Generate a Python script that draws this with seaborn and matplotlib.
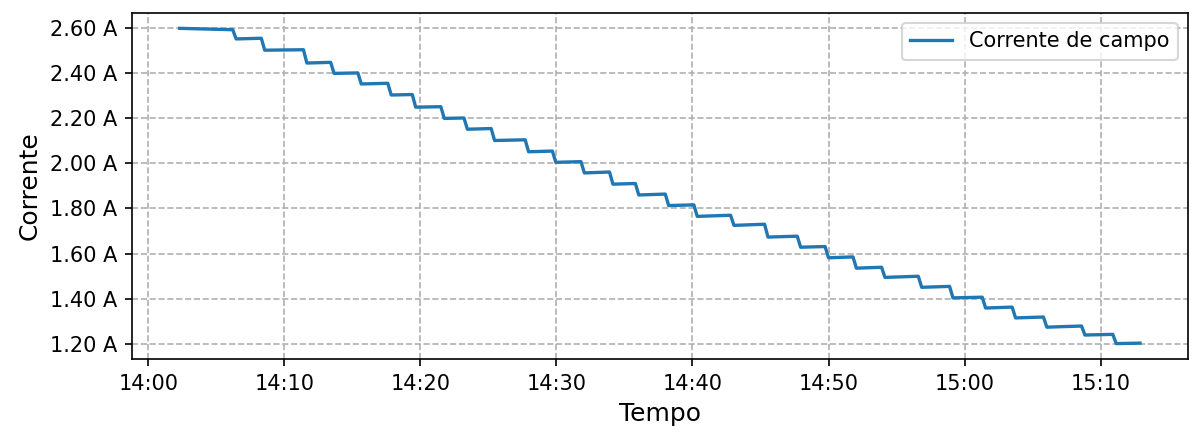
import matplotlib
matplotlib.use("Agg")
import matplotlib.pyplot as plt
import matplotlib.dates as mdates
from matplotlib.ticker import FuncFormatter, MultipleLocator
import pandas as pd
import seaborn as sns

# Each current plateau: start/end clock time and current at start/end
inicio = ["14:02:18", "14:06:27", "14:08:33", "14:11:39", "14:13:39", "14:15:39",
          "14:17:51", "14:19:39", "14:21:45", "14:23:27", "14:25:27", "14:27:57",
          "14:29:57", "14:32:03", "14:34:09", "14:36:03", "14:38:15", "14:40:21",
          "14:43:03", "14:45:33", "14:47:57", "14:50:00", "14:52:03", "14:54:09",
          "14:56:51", "14:59:09", "15:01:33", "15:03:45", "15:06:03", "15:08:51",
          "15:11:09"]
fim = ["14:06:12", "14:08:18", "14:11:24", "14:13:24", "14:15:24", "14:17:36",
       "14:19:24", "14:21:30", "14:23:12", "14:25:12", "14:27:42", "14:29:42",
       "14:31:48", "14:33:54", "14:35:48", "14:38:00", "14:40:06", "14:42:48",
       "14:45:18", "14:47:42", "14:49:45", "14:51:48", "14:53:54", "14:56:36",
       "14:58:54", "15:01:18", "15:03:30", "15:05:48", "15:08:36", "15:10:54",
       "15:12:54"]
corrente_inicio = [2.600, 2.553, 2.503, 2.446, 2.400, 2.353, 2.304, 2.250, 2.200,
                   2.152, 2.102, 2.052, 2.005, 1.958, 1.908, 1.860, 1.813, 1.765,
                   1.725, 1.673, 1.628, 1.581, 1.535, 1.494, 1.450, 1.403, 1.358,
                   1.314, 1.273, 1.238, 1.200]
corrente_fim = [2.594, 2.556, 2.505, 2.449, 2.402, 2.356, 2.306, 2.252, 2.202,
                2.155, 2.105, 2.055, 2.008, 1.962, 1.911, 1.864, 1.816, 1.770,
                1.730, 1.677, 1.631, 1.585, 1.539, 1.499, 1.454, 1.406, 1.362,
                1.318, 1.278, 1.241, 1.202]

tempos, correntes = [], []
for t0, t1, c0, c1 in zip(inicio, fim, corrente_inicio, corrente_fim):
    tempos += [t0, t1]
    correntes += [c0, c1]

df = pd.DataFrame({
    "Tempo": pd.to_datetime(["2023-05-10 " + t for t in tempos]),
    "Corrente": correntes,
})

fig, ax = plt.subplots(figsize=(1197 / 150, 434 / 150), dpi=150)
fig.subplots_adjust(left=0.110, right=0.9925, bottom=0.172, top=0.971)

sns.lineplot(data=df, x="Tempo", y="Corrente", ax=ax, sort=False, estimator=None,
             color="#1f77b4", linewidth=1.6, label="Corrente de campo")

ax.grid(True, linestyle="--", color="#b0b0b0", linewidth=0.8)
ax.xaxis.set_major_locator(mdates.MinuteLocator(byminute=range(0, 60, 10)))
ax.xaxis.set_major_formatter(mdates.DateFormatter("%H:%M"))
ax.yaxis.set_major_locator(MultipleLocator(0.2))
ax.yaxis.set_major_formatter(FuncFormatter(lambda v, _: f"{v:.2f} A"))
ax.tick_params(labelsize=10)
ax.set_xlabel("Tempo", fontsize=12)
ax.set_ylabel("Corrente", fontsize=12)
ax.legend(loc="upper right", fontsize=10)

fig.savefig("out.png", dpi=150)
